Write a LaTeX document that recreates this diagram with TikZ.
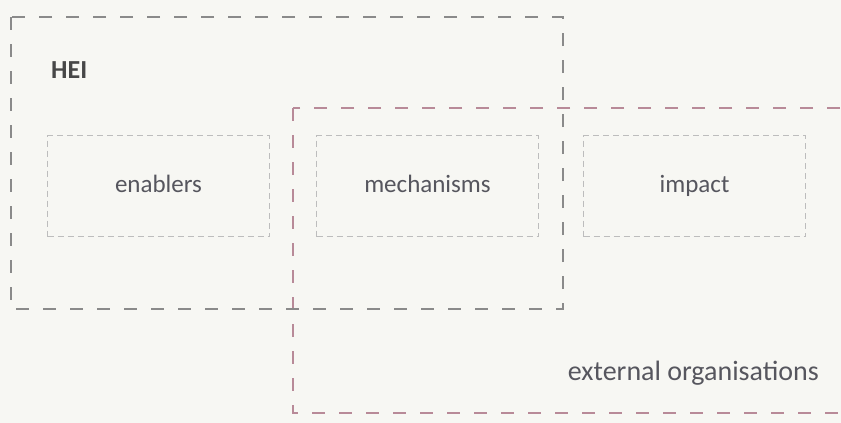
\documentclass[tikz,border=0pt]{standalone}
\usepackage{fontspec}
\setmainfont{Carlito}
\definecolor{bg}{HTML}{F7F7F3}
\definecolor{heic}{HTML}{8A8A8A}
\definecolor{extc}{HTML}{B88A98}
\definecolor{innerc}{HTML}{BDBDBD}
\definecolor{txt}{HTML}{56565E}
\begin{document}
\begin{tikzpicture}[x=1pt,y=-1pt,
  outerbox/.style={draw, line width=1.8pt, dash pattern=on 13pt off 14pt},
  innerbox/.style={draw=innerc, line width=1.3pt, dash pattern=on 6pt off 4pt, minimum width=222pt, minimum height=101pt, inner sep=0pt},
  lbl/.style={text=txt, font=\fontsize{25}{30}\selectfont, inner sep=0pt}]
\fill[bg] (0,0) rectangle (841,423);
\useasboundingbox (0,0) rectangle (841,423);
\draw[outerbox, draw=extc] (293,108) rectangle (842,413);
\draw[outerbox, draw=heic] (11,17) rectangle (563,309);
\node[innerbox] (en) at (158.5,186) {};
\node[innerbox] (me) at (427.5,186) {};
\node[innerbox] (im) at (694.5,186) {};
\node[lbl, anchor=base] at ([yshift=-6pt]en) {enablers};
\node[lbl, anchor=base] at ([yshift=-6pt]me) {mechanisms};
\node[lbl, anchor=base] at ([yshift=-6pt]im) {impact};
\node[lbl, anchor=base west, font=\bfseries\fontsize{26}{30}\selectfont, text=black!72] (hei) at (51,78) {HEI};
\node[lbl, anchor=base east, font=\fontsize{28}{32}\selectfont] (ext) at (819,380) {external organisations};
\end{tikzpicture}
\end{document}
